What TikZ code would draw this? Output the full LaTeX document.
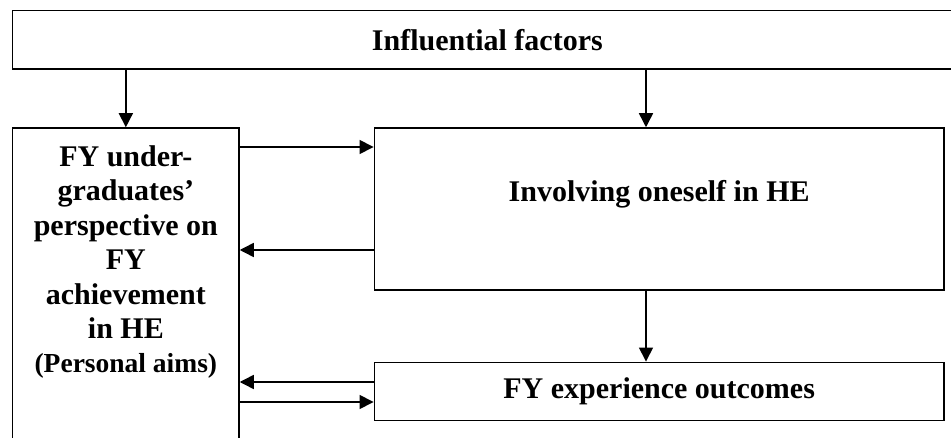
\documentclass[tikz,border=0pt]{standalone}
\usepackage{fontspec}
\setmainfont{Liberation Serif}
\usetikzlibrary{positioning,arrows.meta}

\tikzset{
  box/.style={draw, rectangle, line width=1.5pt, inner sep=0pt},
  bigtext/.style={font=\fontsize{30}{34.4}\selectfont\bfseries},
  flow/.style={-{Triangle[length=14pt,width=14pt]}, line width=1.5pt}
}

\begin{document}
\begin{tikzpicture}[x=1pt,y=-1pt]
	  \useasboundingbox (0,0) rectangle (951,438);
	  % boxes
	  \node[box, bigtext, minimum width=949.3pt, minimum height=58.3pt] (factors) at (487.35,39.85) {Influential factors};
	  \node[box, minimum width=226.3pt, minimum height=342pt] (persp) at (125.85,299) {};
	  \node[bigtext, align=center, anchor=north, inner sep=0pt] (persptext) at (125.85,145.5)
	    {FY under-\\graduates’\\perspective on\\FY\\achievement\\in HE\\{\fontsize{27.5}{34.4}\selectfont (Personal aims)}};
	  \node[box, bigtext, minimum width=569.7pt, minimum height=162pt, text height=20.5pt, text depth=35pt] (involve) at (659.15,209) {Involving oneself in HE};
	  \node[box, bigtext, minimum width=569.7pt, minimum height=58.4pt] (outcomes) at (659.15,391.5) {FY experience outcomes};
	  % where the arrows run
	  \coordinate (midx) at (646,0);
	  \coordinate (toinv) at (0,147);
	  \coordinate (frominv) at (0,250);
	  \coordinate (fromout) at (0,382);
	  \coordinate (toout) at (0,402);
	  \path[flow]
	  (factors.south -| persp.north) edge (persp.north)
	  (factors.south -| midx) edge (involve.north -| midx)
	  (involve.south -| midx) edge (outcomes.north -| midx)
	  (persp.east |- toinv) edge (involve.west |- toinv)
	  (involve.west |- frominv) edge (persp.east |- frominv)
	  (outcomes.west |- fromout) edge (persp.east |- fromout)
	  (persp.east |- toout) edge (outcomes.west |- toout);
	\end{tikzpicture}
\end{document}
